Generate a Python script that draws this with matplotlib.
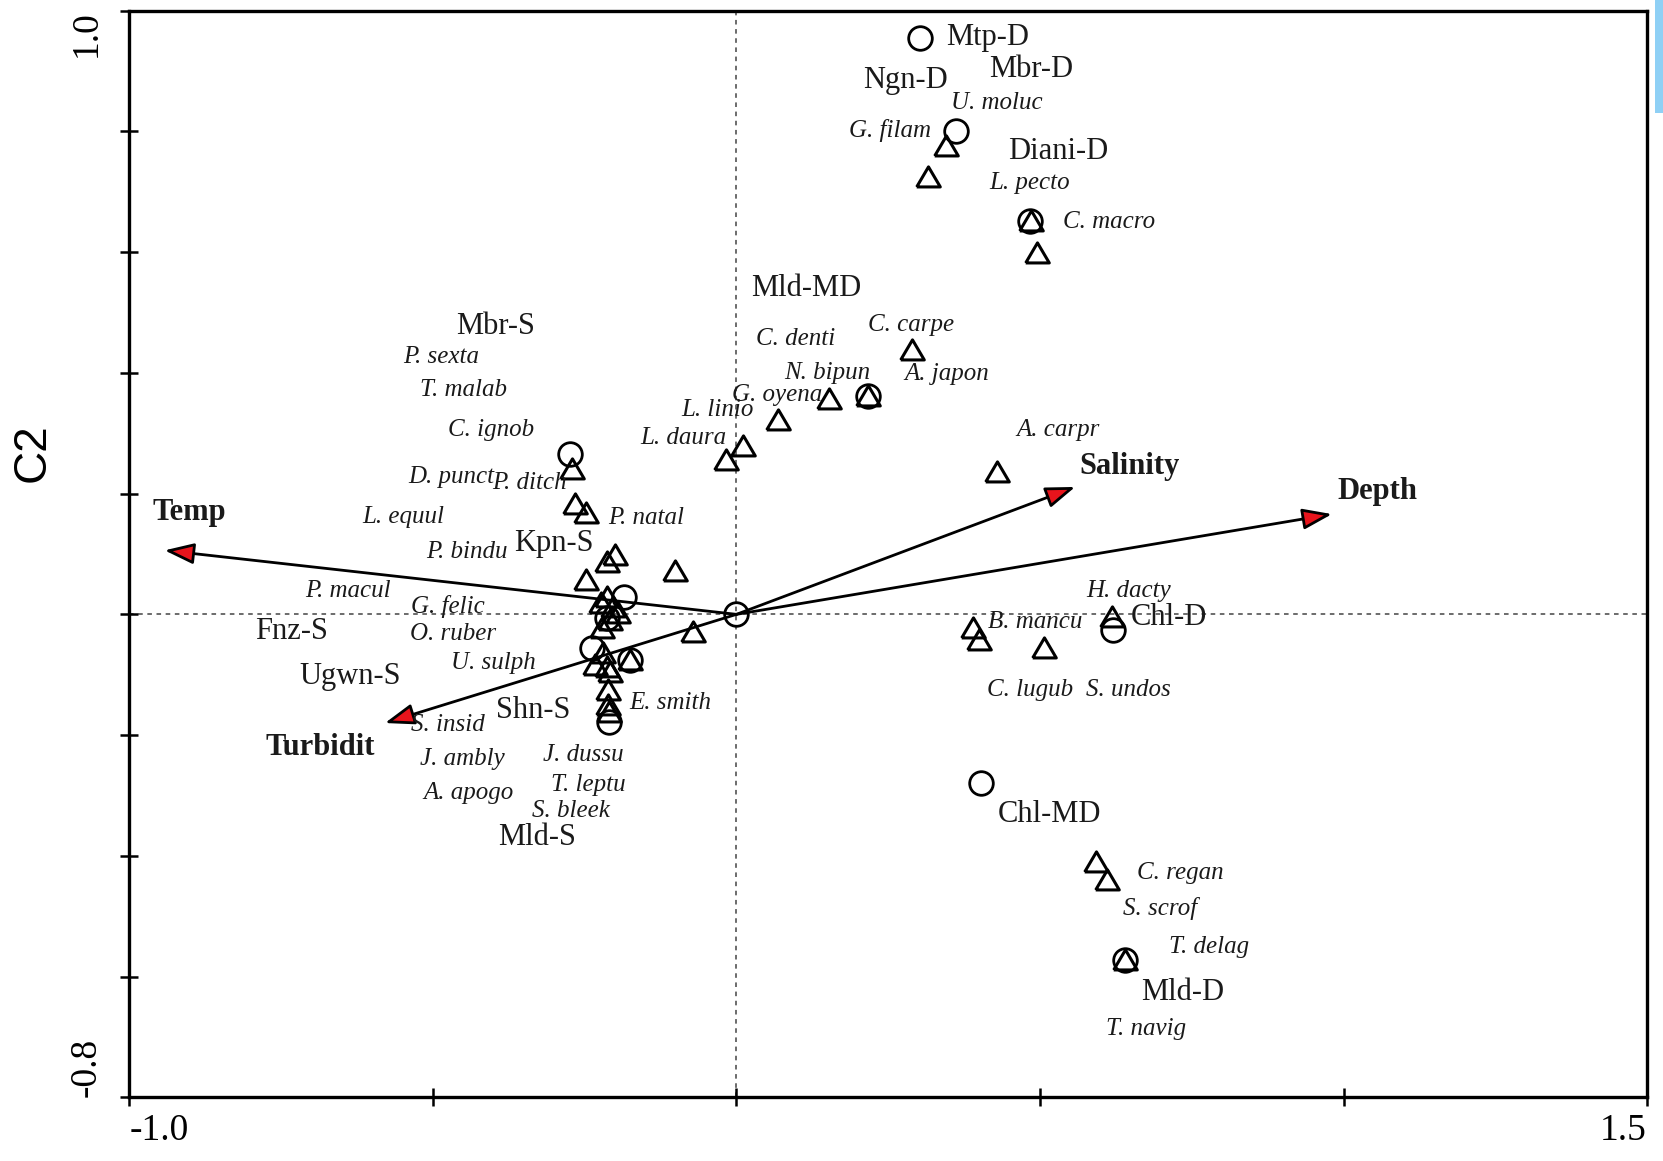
import matplotlib
matplotlib.use("AGG")
import matplotlib.pyplot as plt
from matplotlib.patches import Rectangle

# sample (site) scores - open circles
site_x = [0.303, 0.361, 0.483, 0.216, -0.275, 0.0, -0.186, -0.214, -0.238, -0.175,
          -0.210, 0.621, 0.403, 0.640]
site_y = [0.954, 0.800, 0.651, 0.361, 0.266, 0.0, 0.029, -0.006, -0.055, -0.075,
          -0.178, -0.026, -0.279, -0.572]

site_labels = ["Mtp-D", "Ngn-D", "Mbr-D", "Diani-D", "Mld-MD", "Mbr-S", "Kpn-S", "Fnz-S",
               "Ugwn-S", "Shn-S", "Mld-S", "Chl-D", "Chl-MD", "Mld-D"]
site_lab_x = [0.413, 0.279, 0.485, 0.530, 0.115, -0.396, -0.301, -0.733,
              -0.637, -0.334, -0.329, 0.712, 0.516, 0.735]
site_lab_y = [0.956, 0.884, 0.903, 0.766, 0.540, 0.477, 0.118, -0.029,
              -0.103, -0.159, -0.370, -0.006, -0.331, -0.626]

# species scores - open triangles
species_x = [0.345, 0.316, 0.485, 0.495, 0.289, 0.153, 0.216, 0.069, 0.010, -0.018,
             0.429, 0.389, 0.399, 0.506, 0.618, 0.593, 0.611, 0.640, -0.271, -0.266,
             -0.247, -0.200, -0.214, -0.247, -0.102, -0.072, -0.214, -0.223, -0.203, -0.209,
             -0.221, -0.219, -0.233, -0.214, -0.209, -0.175, -0.212, -0.212, -0.210, -0.195]
species_y = [0.775, 0.724, 0.651, 0.598, 0.438, 0.357, 0.361, 0.322, 0.278, 0.255,
             0.236, -0.022, -0.043, -0.055, -0.005, -0.410, -0.440, -0.572, 0.240, 0.183,
             0.168, 0.099, 0.087, 0.057, 0.071, -0.029, 0.029, 0.018, 0.013, -0.010,
             -0.022, -0.064, -0.084, -0.087, -0.096, -0.075, -0.126, -0.150, -0.161, 0.002]

species_labels = ["U. moluc", "G. filam", "L. pecto", "C. macro", "C. carpe", "C. denti",
                  "N. bipun", "A. japon", "G. oyena", "L. linio", "L. daura", "A. carpr",
                  "P. sexta", "T. malab", "C. ignob", "D. punct", "P. ditch", "L. equul",
                  "P. natal", "P. bindu", "P. macul", "G. felic", "O. ruber", "U. sulph",
                  "E. smith", "S. insid", "J. ambly", "J. dussu", "T. leptu", "A. apogo",
                  "S. bleek", "H. dacty", "B. mancu", "C. lugub", "S. undos", "C. regan",
                  "S. scrof", "T. delag", "T. navig"]
species_lab_x = [0.429, 0.253, 0.483, 0.614, 0.288, 0.097, 0.150, 0.347, 0.067, -0.032,
                 -0.088, 0.529, -0.486, -0.450, -0.404, -0.469, -0.341, -0.549, -0.149,
                 -0.444, -0.640, -0.476, -0.467, -0.401, -0.109, -0.476, -0.451, -0.252,
                 -0.244, -0.441, -0.273, 0.646, 0.492, 0.483, 0.646, 0.731, 0.698, 0.778,
                 0.674]
species_lab_y = [0.847, 0.802, 0.715, 0.649, 0.480, 0.456, 0.399, 0.398, 0.364, 0.338,
                 0.292, 0.306, 0.426, 0.371, 0.305, 0.227, 0.218, 0.162, 0.159, 0.104,
                 0.039, 0.013, -0.033, -0.080, -0.147, -0.184, -0.240, -0.233, -0.282,
                 -0.296, -0.326, 0.039, -0.012, -0.126, -0.126, -0.428, -0.488, -0.551,
                 -0.686]

# environmental variables (arrow tips)
env_names = ["Temp", "Turbidit", "Salinity", "Depth"]
env_x = [-0.942, -0.579, 0.558, 0.981]
env_y = [0.106, -0.180, 0.211, 0.166]
env_lab_x = [-0.902, -0.686, 0.647, 1.056]
env_lab_y = [0.169, -0.221, 0.245, 0.203]

serif = "Liberation Serif"
txt_col = "#1a1a1a"

fig = plt.figure(figsize=(16.63, 11.61), dpi=100)
ax = fig.add_axes([0.0778, 0.0548, 0.9126, 0.9361])

ax.set_xlim(-1.0, 1.5)
ax.set_ylim(-0.8, 1.0)

# zero lines
ax.axhline(0, color="#444444", lw=1.1, ls=(0, (3, 3)), zorder=1)
ax.axvline(0, color="#444444", lw=1.1, ls=(0, (3, 3)), zorder=1)

tri = [(-1, -0.8), (1, -0.8), (0, 0.9), (-1, -0.8)]
ax.plot(species_x, species_y, ls="none", marker=tri, ms=17, mfc="none",
        mec="black", mew=2.2, zorder=3)
ax.plot(site_x, site_y, ls="none", marker="o", ms=17, mfc="none",
        mec="black", mew=2.0, zorder=3)

for x, y in zip(env_x, env_y):
    ax.annotate("", xy=(x, y), xytext=(0, 0),
                arrowprops=dict(arrowstyle="-|>,head_length=0.9,head_width=0.32",
                                mutation_scale=20, fc="#e8141c", ec="black", lw=2.0,
                                shrinkA=0, shrinkB=0),
                zorder=4)

for name, x, y in zip(env_names, env_lab_x, env_lab_y):
    ax.text(x, y, name, family=serif, weight="bold", fontsize=22, color=txt_col,
            ha="center", va="center", zorder=5)

for name, x, y in zip(site_labels, site_lab_x, site_lab_y):
    ax.text(x, y, name, family=serif, fontsize=22, color=txt_col,
            ha="center", va="center", zorder=5)

for name, x, y in zip(species_labels, species_lab_x, species_lab_y):
    ax.text(x, y, name, family=serif, style="italic", fontsize=18, color=txt_col,
            ha="center", va="center", zorder=5)

# axes frame and ticks
for sp in ax.spines.values():
    sp.set_linewidth(2.4)

xt = [-1.0, -0.5, 0.0, 0.5, 1.0, 1.5]
yt = [-0.8, -0.6, -0.4, -0.2, 0.0, 0.2, 0.4, 0.6, 0.8, 1.0]
ax.set_xticks(xt)
ax.set_xticklabels(["-1.0", "", "", "", "", "1.5"])
ax.set_yticks(yt)
ax.set_yticklabels(["-0.8", "", "", "", "", "", "", "", "", "1.0"], rotation=90)
ax.tick_params(direction="inout", length=13, width=1.8, labelsize=27, pad=12)
ax.tick_params(axis="x", pad=5)
for lbl in ax.get_xticklabels():
    lbl.set_family(serif)
xl = ax.get_xticklabels()
xl[0].set_ha("left")
xl[-1].set_ha("right")
yl = ax.get_yticklabels()
for lbl in yl:
    lbl.set_family(serif)
yl[0].set_va("bottom")
yl[-1].set_va("top")

fig.text(0.0198, 0.610, "C2", family="Liberation Sans", fontsize=33,
         rotation=90, ha="center", va="center")

# little blue strip on right edge of the original image
fig.patches.append(Rectangle((0.9952, 0.9027), 0.0048, 0.0973, transform=fig.transFigure,
                             facecolor="#8fd0f5", edgecolor="none"))

fig.savefig("out.png", dpi=100)
